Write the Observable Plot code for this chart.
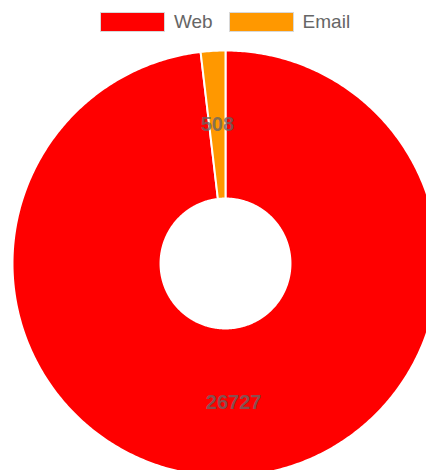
<!DOCTYPE html>
<html>
<head>
<meta charset="utf-8">
<script src="https://cdn.jsdelivr.net/npm/d3@7"></script>
<script src="https://cdn.jsdelivr.net/npm/@observablehq/plot@0.6"></script>
<style>
  html, body { margin: 0; padding: 0; background: #fff; overflow: hidden; width: 426px; height: 470px; }
  #legend { height: 40px; width: 450px; display: flex; justify-content: center; align-items: center; gap: 0; font-family: "Liberation Sans", Arial, Helvetica, sans-serif; font-size: 19px; color: #666; box-sizing: border-box; padding-top: 4px; }
  .item { display: flex; align-items: center; margin: 0 8px; }
  .box { width: 63px; height: 18px; border: 1px solid #d8d8d8; margin-right: 9px; box-sizing: content-box; }
  #chart svg { display: block; overflow: visible; }
</style>
</head>
<body>
<div id="legend"></div>
<div id="chart"></div>
<script>
// Data
const labels = ["Web", "Email"];
const values = [26727, 508];
const colors = ["#ff0000", "#ff9800"];

// Layout constants (pixels)
const W = 426, H = 430;
const CX = 225, CY = 223, R = 213;
const INNER = 0.305; // cutout ratio

// Legend
const legend = document.getElementById("legend");
labels.forEach((l, i) => {
  const it = document.createElement("div");
  it.className = "item";
  const b = document.createElement("span");
  b.className = "box";
  b.style.background = colors[i];
  const t = document.createElement("span");
  t.textContent = l;
  it.appendChild(b); it.appendChild(t);
  legend.appendChild(it);
});

// Build slice polygons from pie angles
const arcs = d3.pie().sort(null).value(d => d)(values);
const pts = [];
const lbls = [];
arcs.forEach((a, i) => {
  const n = Math.max(4, Math.ceil((a.endAngle - a.startAngle) / 0.01));
  for (let k = 0; k <= n; k++) {
    const t = a.startAngle + (a.endAngle - a.startAngle) * k / n;
    pts.push({label: labels[i], x: Math.sin(t), y: Math.cos(t)});
  }
  for (let k = n; k >= 0; k--) {
    const t = a.startAngle + (a.endAngle - a.startAngle) * k / n;
    pts.push({label: labels[i], x: INNER * Math.sin(t), y: INNER * Math.cos(t)});
  }
  const m = (a.startAngle + a.endAngle) / 2;
  const rm = (1 + INNER) / 2;
  lbls.push({label: labels[i], value: values[i], x: rm * Math.sin(m), y: rm * Math.cos(m)});
});

const chart = Plot.plot({
  width: W,
  height: H,
  margin: 0,
  style: {background: "transparent", overflow: "visible"},
  x: {domain: [-CX / R, (W - CX) / R], axis: null},
  y: {domain: [-(H - CY) / R, CY / R], axis: null},
  color: {domain: labels, range: colors},
  marks: [
    Plot.line(pts, {x: "x", y: "y", z: "label", fill: "label", stroke: "#fff", strokeWidth: 2, curve: "linear-closed"}),
    Plot.text(lbls, {x: "x", y: "y", text: d => String(d.value), fill: "#666", fillOpacity: 0.8, fontSize: 20, fontWeight: "bold", fontFamily: "Liberation Sans, Arial, sans-serif"})
  ]
});
document.getElementById("chart").appendChild(chart);
</script>
</body>
</html>
